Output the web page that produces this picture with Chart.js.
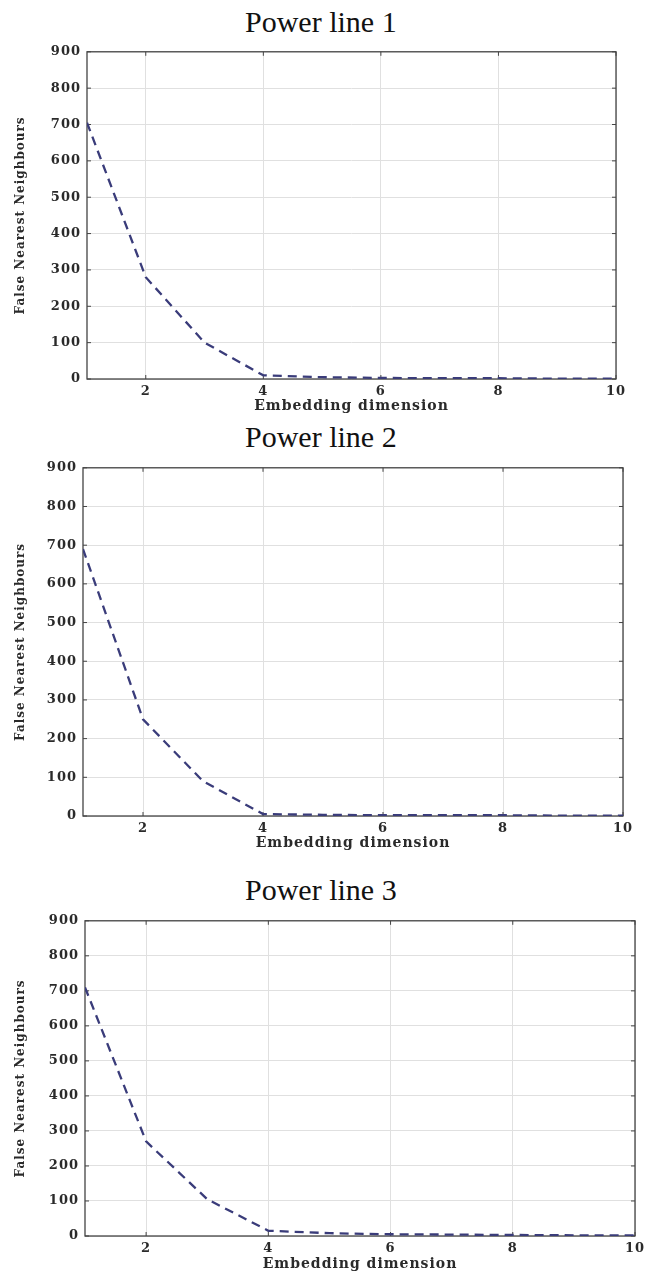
<!DOCTYPE html>
<html>
<head>
<meta charset="utf-8">
<script src="https://cdn.jsdelivr.net/npm/chart.js@4.4.1/dist/chart.umd.min.js"></script>
<style>
  body { margin: 0; background: #fff; }
  #page { position: relative; width: 656px; height: 1274px; overflow: hidden; }
  .box { position: absolute; left: 0; width: 656px; }
  .ttl { position: absolute; left: 245px; font-family: 'Liberation Serif', serif; font-size: 30px; line-height: 30px; color: #111; white-space: nowrap; }
</style>
</head>
<body>
<div id="page">
  <div class="box" id="b1"><canvas id="c1"></canvas></div>
  <div class="box" id="b2"><canvas id="c2"></canvas></div>
  <div class="box" id="b3"><canvas id="c3"></canvas></div>
  <div class="ttl" style="top:7px">Power line 1</div>
  <div class="ttl" style="top:422px">Power line 2</div>
  <div class="ttl" style="top:875px">Power line 3</div>
</div>
<script>
'use strict';
// embedding dimension (x) and false nearest neighbour counts
let dims = [1, 2, 3, 4, 5, 6, 7, 8, 9, 10];
let line1 = [705, 280, 100, 10, 5, 3, 2, 2, 1, 1];
let line2 = [690, 250, 90, 5, 3, 2, 2, 2, 1, 1];
let line3 = [710, 270, 105, 15, 8, 5, 4, 3, 2, 2];
let xTicks = [2, 4, 6, 8, 10];
let yMax = 900;
let yStep = 100;

Chart.defaults.font.family = 'DejaVu Serif';
Chart.defaults.color = '#2a2a2a';

// matlab-ish frame: box round the plot + small inward ticks
let framePlugin = {
    id: 'frame',
    beforeLayout(chart) { chart.ctx.letterSpacing = '1px'; },
    beforeDraw(chart) { chart.ctx.letterSpacing = '1px'; },
    beforeDatasetsDraw(chart) {
        let ctx = chart.ctx;
        let a = chart.chartArea;
        let xs = chart.scales.x;
        let ys = chart.scales.y;
        ctx.save();
        ctx.strokeStyle = '#444';
        ctx.lineWidth = 1.3;
        ctx.strokeRect(a.left, a.top, a.right - a.left, a.bottom - a.top);
        ctx.lineWidth = 1;
        ctx.beginPath();
        xs.ticks.forEach(t => {
            let px = xs.getPixelForValue(t.value);
            ctx.moveTo(px, a.top); ctx.lineTo(px, a.top + 4);
            ctx.moveTo(px, a.bottom); ctx.lineTo(px, a.bottom - 4);
        });
        ys.ticks.forEach(t => {
            let py = ys.getPixelForValue(t.value);
            ctx.moveTo(a.right, py); ctx.lineTo(a.right - 4, py);
            ctx.moveTo(a.left, py); ctx.lineTo(a.left + 4, py);
        });
        ctx.stroke();
        ctx.restore();
    }
};

function makeChart(id, boxId, values, p) {
    let box = document.getElementById(boxId);
    box.style.top = p.canvasTop + 'px';
    box.style.height = p.height + 'px';
    let pts = [];
    for (let i = 0; i < dims.length; i++) {
        pts.push({x: dims[i], y: values[i]});
    }
    return new Chart(document.getElementById(id), {
        type: 'line',
        data: {
            datasets: [{
                data: pts,
                borderColor: '#3a3c7a',
                borderWidth: 2.3,
                borderDash: [9, 6],
                pointRadius: 0,
                tension: 0,
                fill: false
            }]
        },
        options: {
            responsive: true,
            maintainAspectRatio: false,
            animation: false,
            events: [],
            layout: { padding: { top: 12, right: p.right, left: 0, bottom: 0 } },
            plugins: { legend: { display: false }, tooltip: { enabled: false }, title: { display: false } },
            scales: {
                x: {
                    type: 'linear',
                    min: 1,
                    max: 10,
                    afterBuildTicks: s => { s.ticks = xTicks.map(v => ({value: v})); },
                    afterFit: s => { s.height = p.xh; },
                    grid: { color: '#e0e0e0', drawTicks: false },
                    border: { display: false },
                    ticks: { padding: 5, font: { size: 13, weight: 'bold' } },
                    title: { display: true, text: 'Embedding dimension',
                        font: { size: 14, weight: 'bold' }, padding: { top: 0, bottom: p.xtPad } }
                },
                y: {
                    min: 0,
                    max: yMax,
                    afterFit: s => { s.width = p.left; },
                    grid: { color: '#e0e0e0', drawTicks: false },
                    border: { display: false },
                    ticks: { stepSize: yStep, padding: 6, font: { size: 13, weight: 'bold' } },
                    title: { display: true, text: 'False Nearest Neighbours',
                        font: { size: 12, weight: 'bold' }, padding: { top: 14, bottom: 0 } }
                }
            }
        },
        plugins: [framePlugin]
    });
}

makeChart('c1', 'b1', line1, { canvasTop: 38, height: 377, left: 87, right: 40, xh: 36, xtPad: 0 });
makeChart('c2', 'b2', line2, { canvasTop: 454, height: 398, left: 83, right: 33, xh: 36, xtPad: 0 });
makeChart('c3', 'b3', line3, { canvasTop: 907, height: 367, left: 85, right: 21, xh: 38, xtPad: 1 });
</script>
</body>
</html>
